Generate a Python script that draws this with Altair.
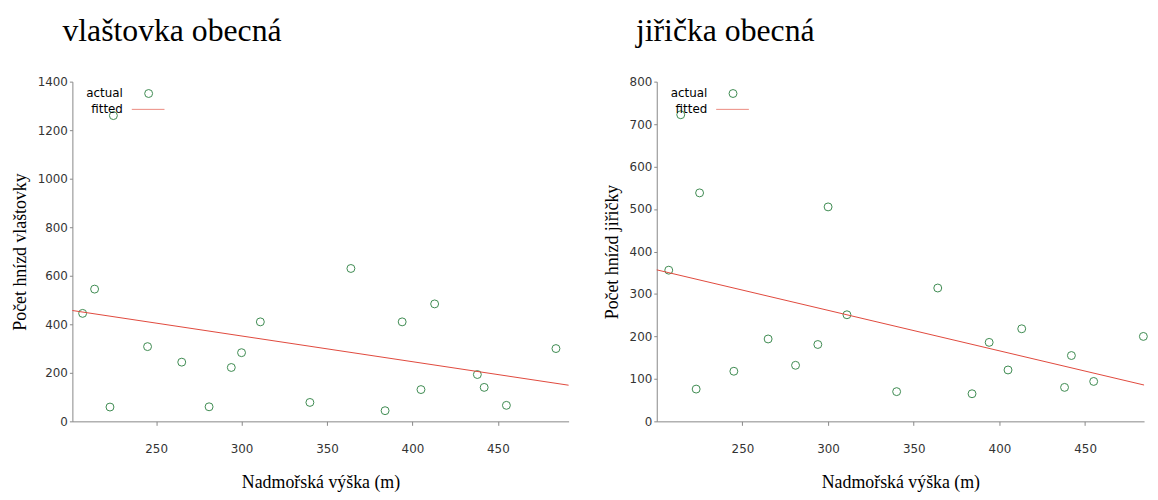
import altair as alt
import pandas as pd

# --- data ---
altitude = [207, 214, 225, 223, 245, 265, 281, 294, 300, 311,
            340, 364, 384, 394, 405, 413, 438, 442, 455, 484]
vlastovka = [445, 545, 1260, 59, 308, 244, 60, 222, 283, 410,
             78, 630, 44, 410, 131, 484, 193, 140, 66, 300]
jiricka = [356, 722, 538, 76, 118, 194, 132, 181, 505, 251,
           70, 314, 65, 186, 121, 218, 80, 155, 94, 200]
x_ticks = [250, 300, 350, 400, 450]
y_ticks_left = [0, 200, 400, 600, 800, 1000, 1200, 1400]
y_ticks_right = [0, 100, 200, 300, 400, 500, 600, 700, 800]
titles = ["vlaštovka obecná", "jiřička obecná"]
y_titles = ["Počet hnízd vlaštovky", "Počet hnízd jiřičky"]
x_title = "Nadmořská výška (m)"
legend_labels = ["actual", "fitted"]

GREEN = "#3d8a50"
RED = "#e0483c"
SERIF = "Liberation Serif"
SANS = "DejaVu Sans"


def panel(values, title, ytitle, xdomain, ydomain, yticks, width, height, tdx):
    df = pd.DataFrame({"alt": altitude, "val": values})
    xs = alt.Scale(domain=xdomain, nice=False, zero=False)
    ys = alt.Scale(domain=ydomain, nice=False)
    base = alt.Chart(df)
    pts = base.mark_point(shape="circle", filled=False, color=GREEN,
                          size=64, strokeWidth=1, opacity=1).encode(
        x=alt.X("alt:Q", scale=xs,
                axis=alt.Axis(values=x_ticks, title=x_title, labelPadding=18,
                              titlePadding=20, tickSize=4, format="d")),
        y=alt.Y("val:Q", scale=ys,
                axis=alt.Axis(values=yticks, title=ytitle, labelPadding=2,
                              titlePadding=8, tickSize=3, format="d")),
    )
    fit = base.transform_regression("alt", "val", extent=xdomain).mark_line(
        color=RED, strokeWidth=1).encode(x=alt.X("alt:Q"), y=alt.Y("val:Q"))

    one = pd.DataFrame({"k": [0]})
    t_actual = alt.Chart(pd.DataFrame({"label": [legend_labels[0]]})).mark_text(
        align="right", baseline="middle", font=SANS, fontSize=12, color="black"
    ).encode(x=alt.value(51), y=alt.value(12), text="label:N")
    t_fitted = alt.Chart(pd.DataFrame({"label": [legend_labels[1]]})).mark_text(
        align="right", baseline="middle", font=SANS, fontSize=12, color="black"
    ).encode(x=alt.value(51), y=alt.value(28), text="label:N")
    sym = alt.Chart(one).mark_point(shape="circle", filled=False, color=GREEN,
                                    size=64, strokeWidth=1, opacity=1).encode(
        x=alt.value(77), y=alt.value(12))
    rl = alt.Chart(one).mark_rule(color="#eb8a80", strokeWidth=1).encode(
        x=alt.value(60), x2=alt.value(93), y=alt.value(28))

    return alt.layer(pts, fit, t_actual, t_fitted, sym, rl).properties(
        width=width, height=height,
        title=alt.TitleParams(title, anchor="start", frame="group", font=SERIF,
                              fontSize=32, fontWeight="normal", color="black",
                              dx=tdx, offset=28),
    )


left = panel(vlastovka, titles[0], y_titles[0], [201, 491.4], [0, 1400],
             y_ticks_left, 501, 343, -10)
right = panel(jiricka, titles[1], y_titles[1], [200, 484.4], [0, 800],
              y_ticks_right, 492, 343, -21)

chart = alt.hconcat(left, right, spacing=33).properties(
    padding={"left": 3, "top": 5, "right": 0, "bottom": 0}
).configure_view(
    stroke=None
).configure_axis(
    grid=False, domainColor="#888888", tickColor="#888888",
    labelColor="#333333", labelFont=SANS, labelFontSize=12,
    titleFont=SERIF, titleFontSize=18, titleFontWeight="normal",
    titleColor="black",
)

chart.save("out.html", embed_options={"renderer": "svg", "actions": False})
